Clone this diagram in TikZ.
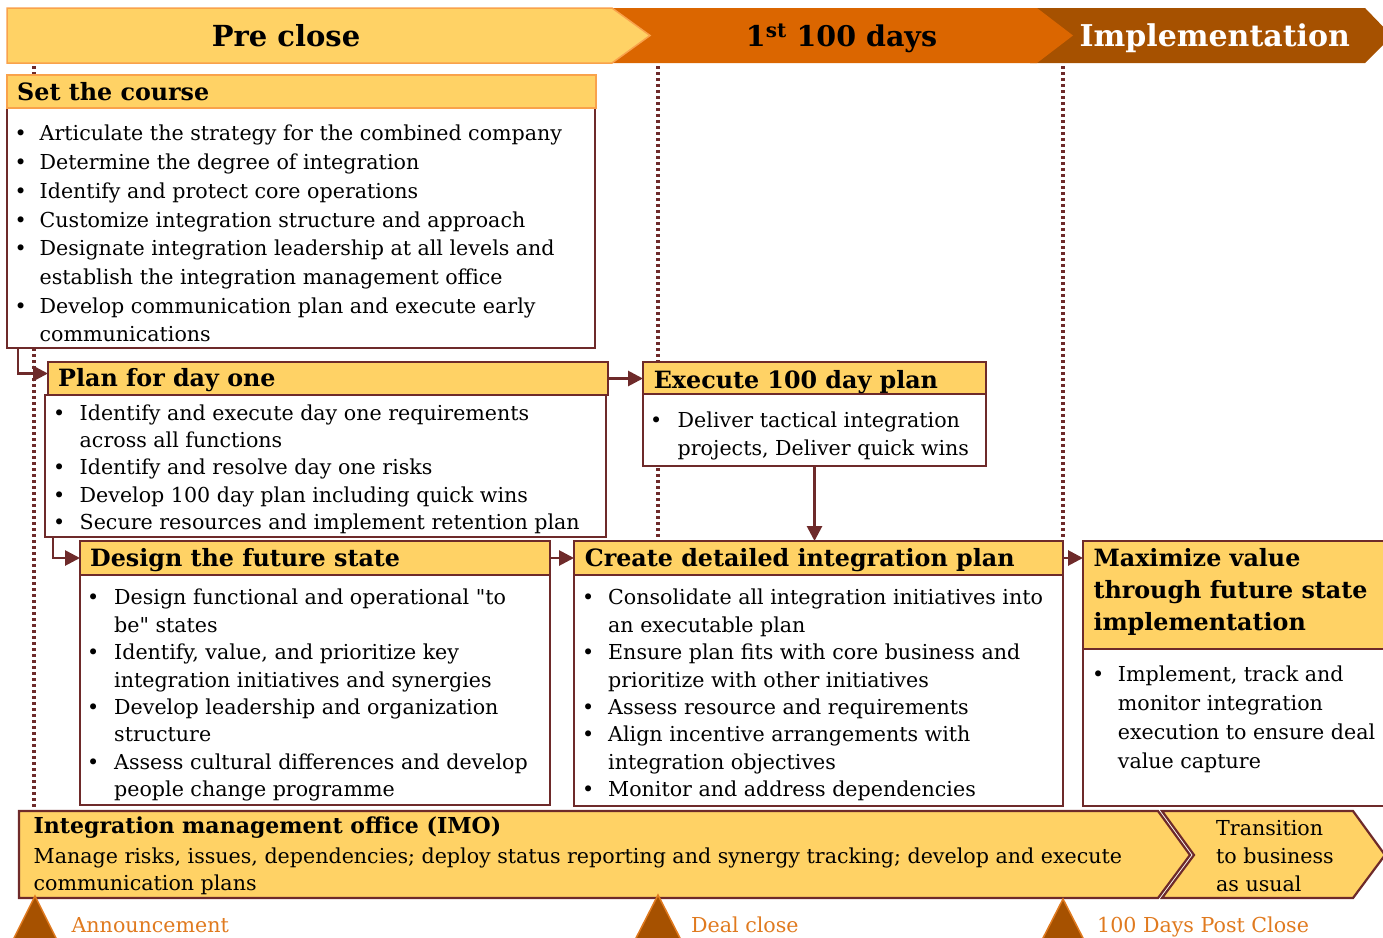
\documentclass[tikz,border=0pt]{standalone}
\usepackage{fontspec}
\setmainfont{DejaVu Serif}
\newfontfamily\qf{DejaVu Serif}[Ligatures=Common]
\usetikzlibrary{arrows.meta}
\definecolor{ylw}{HTML}{FFD265}
\definecolor{lorg}{HTML}{F9A24B}
\definecolor{dorg}{HTML}{DB6600}
\definecolor{brn}{HTML}{A65100}
\definecolor{mar}{HTML}{6E2A2A}
\definecolor{lbl}{HTML}{E07A1F}
\newcommand\ind{20bp}
\newcommand\bu{\makebox[\ind][l]{\textbullet}}
\newcommand\ct{\hspace*{\ind}}
\newcommand\sbs{\rule{0pt}{17bp}}
\newcommand\sbh{\rule{0pt}{19bp}}
\newcommand\sq{{\qf"}}
\begin{document}
\begin{tikzpicture}[x=1bp,y=-1bp,
  box/.style={draw=mar,line width=2.2bp,fill=white,anchor=north west,inner sep=0,outer sep=0},
  hdr/.style={box,fill=ylw},
  ind/.code={\gdef\ind{#1}},
  body/.style={anchor=north west,inner sep=0,align=left,font=\fontsize{20.6bp}{#1}\selectfont},
  htxt/.style={anchor=base west,inner sep=0,font=\bfseries\fontsize{23.8bp}{32bp}\selectfont},
  btxt/.style={anchor=base,inner sep=0,font=\bfseries\fontsize{29bp}{32bp}\selectfont},
  lab/.style={anchor=base west,inner sep=0,text=lbl,font=\fontsize{20.6bp}{24bp}\selectfont},
  conn/.style={draw=mar,line width=2.8bp,-{Triangle[length=15bp,width=15bp]}},
  dots/.style={draw=mar,line width=3.2bp,dash pattern=on 3bp off 3bp},
  tri/.style={fill=brn,draw=lbl,line width=1.5bp},
  band/.style={fill=ylw,draw=mar,line width=2.2bp}
]
\clip (0,0) rectangle (1383,937);
% banners
\fill[brn] (1030,8) -- (1365,8) -- (1392,36) -- (1365,63) -- (1030,63) -- cycle;
\fill[dorg] (600,8) -- (1037,8) -- (1073,35.5) -- (1037,63) -- (600,63) -- cycle;
\filldraw[fill=ylw,draw=lorg,line width=1.5bp] (7,8) -- (612,8) -- (650,35.5) -- (612,63) -- (7,63) -- cycle;
\node[btxt] (tpre) at (286,46.7) {Pre close};
\node[btxt,font=\bfseries\fontsize{28.5bp}{32bp}\selectfont] (t100) at (841.5,46.7) {1\textsuperscript{st} 100 days};
\node[btxt,text=white,font=\bfseries\fontsize{30bp}{32bp}\selectfont] (timp) at (1214.8,46.7) {Implementation};
% dotted phase lines
\draw[dots] (34,66) -- (34,808);
\draw[dots] (658,66) -- (658,540);
\draw[dots] (1063,66) -- (1063,540);
% boxes
\node[box,minimum width=588bp,minimum height=240bp] (scb) at (7,108) {};
\node[hdr,draw=lorg,minimum width=589bp,minimum height=33bp] (sch) at (7,75) {};
\node[box,minimum width=561bp,minimum height=142bp] (plb) at (45,395) {};
\node[hdr,minimum width=560bp,minimum height=33bp] (plh) at (48,362) {};
\node[box,minimum width=343bp,minimum height=72bp] (exb) at (643,394) {};
\node[hdr,minimum width=343bp,minimum height=32bp] (exh) at (643,362) {};
\node[box,minimum width=470bp,minimum height=230bp] (dsb) at (80,575) {};
\node[hdr,minimum width=470bp,minimum height=34bp] (dsh) at (80,541) {};
\node[box,minimum width=489bp,minimum height=231bp] (cdb) at (574,575) {};
\node[hdr,minimum width=489bp,minimum height=34bp] (cdh) at (574,541) {};
\node[box,minimum width=310bp,minimum height=157bp] (mxb) at (1083,649) {};
\node[hdr,minimum width=310bp,minimum height=108bp] (mxh) at (1083,541) {};
% headings
\node[htxt] (scht) at (17,100) {Set the course};
\node[htxt] (plht) at (58,386.7) {Plan for day one};
\node[htxt] (exht) at (653.6,388) {Execute 100 day plan};
\node[htxt] (dsht) at (90,566.7) {Design the future state};
\node[htxt] (cdht) at (584.6,566.7) {Create detailed integration plan};
\node[anchor=north west,inner sep=0,align=left,font=\bfseries\fontsize{23.8bp}{32bp}\selectfont] (mxht) at (1093.3,547) {\sbh Maximize value\\through future state\\implementation};
% bodies
\node[body=28.7bp,ind=25bp] (sct) at (14.5,123.7) {\sbs\bu Articulate the strategy for the combined company\\
\bu Determine the degree of integration\\
\bu Identify and protect core operations\\
\bu Customize integration structure and approach\\
\bu Designate integration leadership at all levels and\\
\ct establish the integration management office\\
\bu Develop communication plan and execute early\\
\ct communications};
\node[body=27.3bp,ind=26.5bp] (plt) at (53,403) {\sbs\bu Identify and execute day one requirements\\
\ct across all functions\\
\bu Identify and resolve day one risks\\
\bu Develop 100 day plan including quick wins\\
\bu Secure resources and implement retention plan};
\node[body=27.7bp,ind=27.5bp] (ext) at (650,410.3) {\sbs\bu Deliver tactical integration\\
\ct projects, Deliver quick wins};
\node[body=27.43bp,ind=27bp] (dst) at (87,587.5) {\sbs\bu Design functional and operational \sq to\\
\ct be\sq\ states\\
\bu Identify, value, and prioritize key\\
\ct integration initiatives and synergies\\
\bu Develop leadership and organization\\
\ct structure\\
\bu Assess cultural differences and develop\\
\ct people change programme};
\node[body=27.43bp,ind=26bp] (cdt) at (582,587.5) {\sbs\bu Consolidate all integration initiatives into\\
\ct an executable plan\\
\bu Ensure plan fits with core business and\\
\ct prioritize with other initiatives\\
\bu Assess resource and requirements\\
\bu Align incentive arrangements with\\
\ct integration objectives\\
\bu Monitor and address dependencies};
\node[body=28.7bp,ind=25.7bp] (mxt) at (1092,664.7) {\sbs\bu Implement, track and\\
\ct monitor integration\\
\ct execution to ensure deal\\
\ct value capture};
% connectors
\draw[conn] ([xshift=11bp]scb.south west) |- ([yshift=5bp]plh.west);
\draw[conn] ([xshift=8bp]plb.south west) |- (dsh.west);
\draw[conn] (plh.east) -- (plh.east -| exh.west);
\draw[conn] (exb.south) -- (exb.south |- cdh.north);
\draw[conn] (dsh.east) -- (cdh.west);
\draw[conn] (cdh.east) -- (cdh.east -| mxh.west);
% IMO band
\path[band] (19,811) -- (1158,811) -- (1190,855) -- (1158,898) -- (19,898) -- cycle;
\path[band] (1162,811) -- (1353,811) -- (1385,855) -- (1353,898) -- (1162,898) -- (1194,855) -- cycle;
\node[htxt,font=\bfseries\fontsize{22bp}{32bp}\selectfont] (imot) at (33.5,833.3) {Integration management office (IMO)};
\node[body=27.4bp] (imob) at (33.5,846.3) {\sbs Manage risks, issues, dependencies; deploy status reporting and synergy tracking; develop and execute\\communication plans};
\node[body=28bp] (trt) at (1216,818) {\sbs Transition\\to business\\as usual};
% milestones
\path[tri] (35,896) -- (57,940) -- (13,940) -- cycle;
\path[tri] (658,895) -- (681,940) -- (635,940) -- cycle;
\path[tri] (1063,899) -- (1084,940) -- (1042,940) -- cycle;
\node[lab] (lann) at (71.4,932) {Announcement};
\node[lab] (ldeal) at (691,932) {Deal close};
\node[lab] (l100) at (1097,932) {100 Days Post Close};
\end{tikzpicture}
\end{document}
